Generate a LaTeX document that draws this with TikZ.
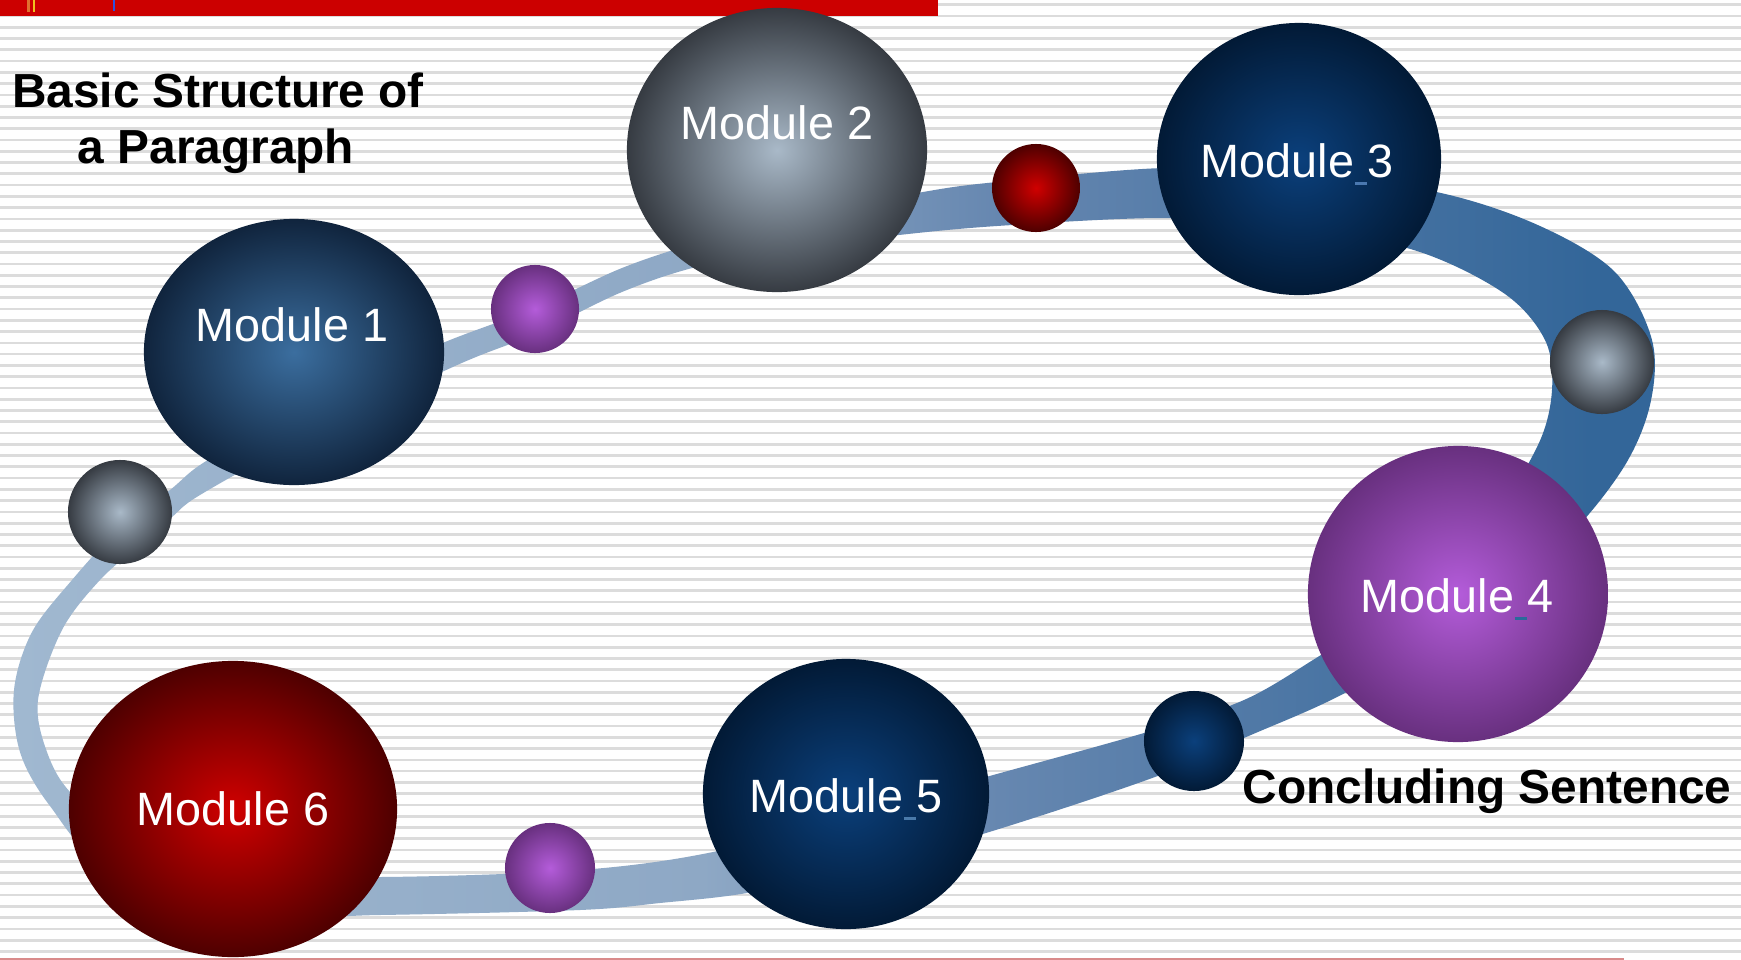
\documentclass[tikz,border=0pt]{standalone}
\usepackage{fontspec}
\setmainfont{Liberation Sans}
\usetikzlibrary{shapes.geometric}

\definecolor{stripegray}{HTML}{DCDCDC}
\definecolor{barred}{HTML}{CC0000}
\definecolor{botline}{HTML}{D98A8A}
\definecolor{markorange}{HTML}{E07030}
\definecolor{markyellow}{HTML}{F0C020}
\definecolor{markblue}{HTML}{3050E0}
\definecolor{bandA}{HTML}{A0B8D0}
\definecolor{bandB}{HTML}{8EA8C5}
\definecolor{bandC}{HTML}{6687B0}
\definecolor{bandD}{HTML}{336699}
% sphere colours
\definecolor{m1in}{HTML}{3B6E9F}\definecolor{m1out}{HTML}{10243D}
\definecolor{grayin}{HTML}{A9B9C8}\definecolor{grayout}{HTML}{363B42}
\definecolor{navyin}{HTML}{0B407C}\definecolor{navyout}{HTML}{021A36}
\definecolor{purpin}{HTML}{B45CDA}\definecolor{purpout}{HTML}{68307F}
\definecolor{redin}{HTML}{D00000}\definecolor{redout}{HTML}{4E0000}
\definecolor{usc3}{HTML}{4A78B0}\definecolor{usc4}{HTML}{2A6A9A}\definecolor{usc5}{HTML}{4A7AAA}

\pgfdeclarehorizontalshading{bandshade}{100bp}{color(0bp)=(bandA); color(25bp)=(bandA); color(46bp)=(bandB); color(55bp)=(bandC); color(73bp)=(bandD); color(100bp)=(bandD)}

\newcommand{\modfont}{\fontsize{13.3}{16}\selectfont}
\newcommand{\ttlfont}{\fontsize{13.6}{16}\selectfont\bfseries}
\newcommand{\usc}[1]{\makebox[0.278em][c]{\textcolor{#1}{\rule[-0.17em]{0.25em}{0.07em}}}}

\tikzset{
  orb/.style n args={4}{ellipse, inner sep=0pt, minimum width=#1, minimum height=#2, inner color=#3, outer color=#4},
  modlabel/.style={anchor=base, text=white, font=\modfont, inner sep=0pt},
  ttl/.style={anchor=base, text=black, font=\ttlfont, inner sep=0pt},
  stripeline/.style={draw=stripegray, line width=0.027cm},
}

\begin{document}
\begin{tikzpicture}[x=0.01cm, y=-0.01cm]
\useasboundingbox (0,0) rectangle (1741,960);
\fill[white] (0,0) rectangle (1741,960);
% background stripes
\foreach \k in {0,...,84} {
  \draw[stripeline] (0,{4.76+11.27*\k}) -- (1741,{4.76+11.27*\k});
}
% top red bar and marks
\fill[barred] (0,0) rectangle (938,16);
\fill[markorange] (27,0) rectangle (29.5,12);
\fill[markyellow] (32.5,0) rectangle (35,12);
\fill[markblue] (112.5,0) rectangle (115,11);
% bottom line
\fill[botline] (0,958) rectangle (1624,960);

% the band (ring)
\shade[shading=bandshade, even odd rule]
  plot[smooth cycle, tension=0.55] coordinates {
    (50,806) (20,752) (14,690) (32,632) (72,580) (120,528) (170,490) (200,465)
    (260,430) (350,382) (450,340) (535,308) (622,268) (700,242) (800,216)
    (923,192) (997,182) (1163,168) (1300,172) (1441,193) (1540,226) (1615,272)
    (1652,340) (1650,405) (1622,470) (1560,545) (1460,625) (1343,694)
    (1244,738) (1155,777) (986,833) (850,870) (747,893) (660,903) (580,910)
    (380,915) (250,915) (110,870)}
  plot[smooth cycle, tension=0.55] coordinates {
    (72,794) (47,752) (38,700) (62,630) (100,580) (145,540) (172,517) (200,495)
    (300,440) (455,366) (535,334) (622,292) (700,266) (800,248) (890,236)
    (997,226) (1163,218) (1300,226) (1420,252) (1505,294) (1545,340) (1552,390)
    (1538,445) (1490,520) (1400,605) (1321,655) (1244,700) (1144,733) (986,777)
    (850,815) (713,852) (580,870) (380,877) (250,872) (135,842)};

% small spheres
\node[orb={1.04cm}{1.04cm}{grayin}{grayout}] (g1) at (120,512) {};
\node[orb={0.88cm}{0.88cm}{purpin}{purpout}] (p1) at (535,309) {};
\node[orb={0.88cm}{0.88cm}{redin}{redout}] (r1) at (1036,188) {};
\node[orb={1.04cm}{1.04cm}{grayin}{grayout}] (g2) at (1602,362) {};
\node[orb={1.0cm}{1.0cm}{navyin}{navyout}] (n1) at (1194,741) {};
\node[orb={0.9cm}{0.9cm}{purpin}{purpout}] (p2) at (550,868) {};

% module spheres
\node[orb={3.0cm}{2.66cm}{m1in}{m1out}] (m1) at (294,352) {};
\node[orb={3.0cm}{2.84cm}{grayin}{grayout}] (m2) at (777,150) {};
\node[orb={2.84cm}{2.72cm}{navyin}{navyout}] (m3) at (1299,159) {};
\node[orb={3.0cm}{2.96cm}{purpin}{purpout}] (m4) at (1458,594) {};
\node[orb={2.86cm}{2.70cm}{navyin}{navyout}] (m5) at (846,794) {};
\node[orb={3.28cm}{2.96cm}{redin}{redout}] (m6) at (233,809) {};

% module labels
\node[modlabel] (m1t) at (292,341) {Module 1};
\node[modlabel] (m2t) at (777,139) {Module 2};
\node[modlabel] (m3t) at (1297,177) {Module\usc{usc3}3};
\node[modlabel] (m4t) at (1457,612) {Module\usc{usc4}4};
\node[modlabel] (m5t) at (846,812) {Module\usc{usc5}5};
\node[modlabel] (m6t) at (233,825) {Module 6};

% titles
\node[ttl] (t1) at (218,107) {Basic Structure of};
\node[ttl] (t2) at (216,163) {a Paragraph};
\node[ttl] (t3) at (1487,803) {Concluding Sentence};
\end{tikzpicture}
\end{document}
